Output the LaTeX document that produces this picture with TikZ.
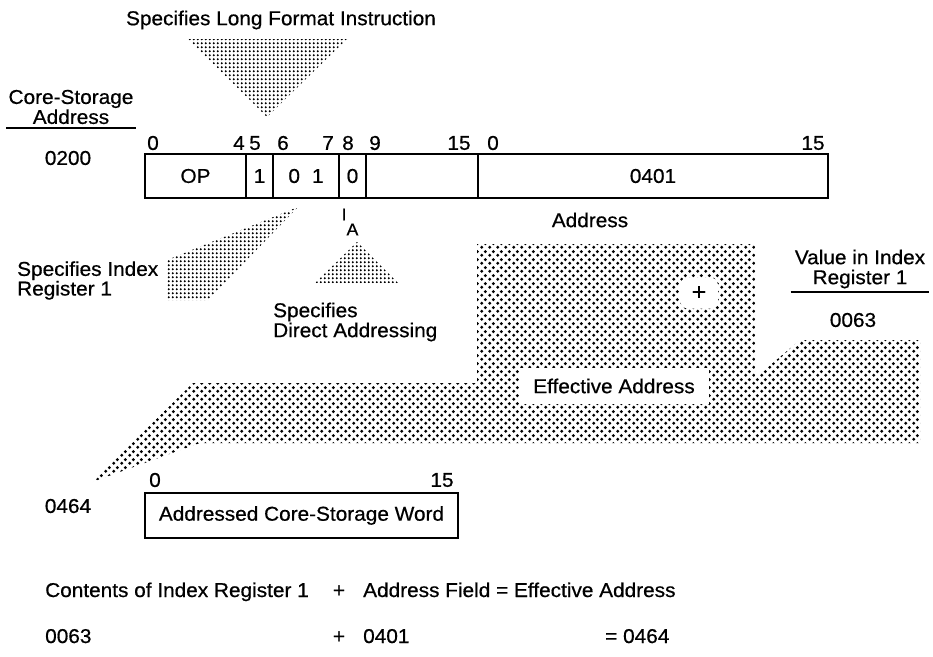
\documentclass[tikz,border=0pt]{standalone}
\usepackage{fontspec}
\setmainfont{Liberation Sans}[FakeStretch=1.04, FakeBold=0.6]
\usepackage{tikz}
\usetikzlibrary{positioning, patterns}

% halftone screens
\pgfdeclarepatternformonly{halftone}{\pgfqpoint{0pt}{0pt}}{\pgfqpoint{8pt}{8pt}}{\pgfqpoint{8pt}{8pt}}{%
  \pgfpathcircle{\pgfqpoint{2pt}{2pt}}{1.85pt}%
  \pgfpathcircle{\pgfqpoint{6pt}{6pt}}{1.85pt}%
  \pgfusepath{fill}}
\pgfdeclarepatternformonly{finedots}{\pgfqpoint{0pt}{0pt}}{\pgfqpoint{4.2pt}{3.8pt}}{\pgfqpoint{4.2pt}{3.8pt}}{%
  \pgfpathcircle{\pgfqpoint{2.1pt}{1.9pt}}{1.25pt}%
  \pgfusepath{fill}}

\tikzset{
  lbl/.style={font=\fontsize{20}{20}\selectfont, inner sep=0pt},
  field/.style={lbl, draw=black, line width=2.3pt, outer sep=0pt,
                minimum height=44pt},
  patch/.style={lbl, fill=white},
  shade/.style={pattern=halftone},
  dotsfill/.style={pattern=finedots},
  rule/.style={line width=2pt},
}

\begin{document}
\begin{tikzpicture}[x=1pt, y=-1pt]
  \useasboundingbox (0,0) rectangle (933,656);

  % Halftone wedges
  \fill[dotsfill] (188,39) -- (347,39) -- (267,117) -- cycle;
  \fill[dotsfill] (167,260) -- (298,207) -- (208,300) -- (167,300) -- cycle;
  \fill[dotsfill] (357,242) -- (398,283) -- (315,283) -- cycle;

  % Effective address band
  \fill[shade] (92,482) -- (193,383) -- (477,383) -- (477,244)
    -- (755,244) -- (755,378) -- (800,340) -- (920,340)
    -- (920,443) -- (200,443) -- cycle;

  % Instruction word
  \node[field, minimum width=101pt, anchor=west] (op) at (145,176) {OP};
  \node[field, minimum width=27pt, right=0pt of op] (b5) {1};
  \node[field, minimum width=66pt, right=0pt of b5] (b67)
    {0\hspace{12pt}1};
  \node[field, minimum width=27pt, right=0pt of b67] (b8) {0};
  \node[field, minimum width=112pt, right=0pt of b8] (b9) {};
  \node[field, minimum width=350pt, right=0pt of b9] (addr) {0401};

  % Bit numbers
  \foreach \xx/\nn [count=\i] in {153/0, 239/4, 255/5, 283/6, 328/7,
      348/8, 375/9, 459/15, 493/0, 813/15}
    \node[lbl] (bit\i) at (\xx,143) {\nn};

  % Labels
  \node[lbl] (ttl) at (281,20) {Specifies Long Format Instruction};
  \node[lbl, align=center] (csa) at (71,107) {Core-Storage\\Address};
  \coordinate (ula) at (0,128);
  \draw[rule] ([xshift=-2pt]csa.west |- ula) -- ([xshift=2pt]csa.east |- ula);
  \node[lbl] (loc) at (68,158) {0200};
  \node[lbl] (addrlbl) at (590,220) {Address};

  \node[lbl, align=left, anchor=west,
        font=\fontsize{20}{17}\selectfont] (sxr) at (17,280.5)
    {Specifies Index\\Register 1};
  \node[lbl, font=\fontsize{17}{17}\selectfont] (ia) at (350,222)
    {I\raisebox{-15pt}{A}};
  \node[lbl, align=left, anchor=west] (sda) at (273,322)
    {Specifies\\Direct Addressing};

  \node[lbl, align=center] (vir) at (860,269) {Value in Index\\Register 1};
  \coordinate (ulb) at (0,292);
  \draw[rule] ([xshift=-4pt]vir.west |- ulb) -- ([xshift=4pt]vir.east |- ulb);
  \node[lbl] (xval) at (853,320) {0063};

  % Patches in the band
  \node[patch, rounded corners=8pt, minimum width=38pt,
        minimum height=31pt, font=\fontsize{24}{24}\selectfont] (plus)
    at (699,293) {+};
  \node[patch, minimum width=190pt, minimum height=36pt] (eff)
    at (614,386) {Effective Address};

  % Addressed word
  \node[field, minimum width=313pt, minimum height=45pt,
        anchor=north west] (word) at (145,493) {Addressed Core-Storage Word};
  \node[lbl] (wb0) at (155,480) {0};
  \node[lbl] (wb15) at (442,480) {15};
  \node[lbl] (eloc) at (68,506) {0464};

  % Sum
  \node[lbl, anchor=base west] (sumtxt) at (45,597) {Contents of Index Register 1};
  \node[lbl, anchor=base] (plusa) at (339,597) {+};
  \node[lbl, anchor=base west] (restxt) at (363,597)
    {Address Field = Effective Address};
  \node[lbl, anchor=base west] (v1) at (45,643) {0063};
  \node[lbl, anchor=base] (plusb) at (339,643) {+};
  \node[lbl, anchor=base west] (v2) at (363,643) {0401};
  \node[lbl, anchor=base west] (v3) at (605,643) {= 0464};
\end{tikzpicture}
\end{document}
